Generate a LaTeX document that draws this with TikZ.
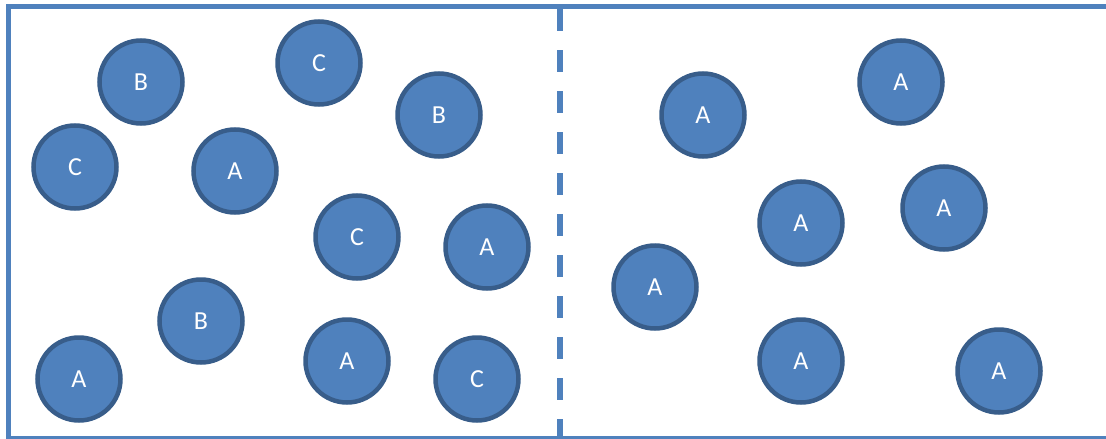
\documentclass[tikz,border=0pt]{standalone}
\usepackage{fontspec}
\setmainfont{Carlito}
\definecolor{ballfill}{HTML}{4F81BD}
\definecolor{balledge}{HTML}{385D8A}

\begin{document}
\begin{tikzpicture}[x=1pt,y=-1pt,
	ball/.style={circle,draw=balledge,fill=ballfill,line width=4.5pt,minimum size=83pt,inner sep=0pt,text=white,font=\fontsize{26}{26}\selectfont},
	wall/.style={draw=ballfill,line width=5pt}]
\useasboundingbox (0,0) rectangle (1106,439);
% container
\draw[wall] (1115,6.5) -- (8.5,6.5) -- (8.5,438) -- (1115,438);
\coordinate (top) at (560,9);
\coordinate (bottom) at (560,437);
\draw[wall,line width=6pt,dash pattern=on 22pt off 19pt] (top) -- (bottom);
% left half
\node [ball] (b1) at (141,82) {B};
\node [ball] (c1) at (319,63) {C};
\node [ball] (b2) at (439,115) {B};
\node [ball] (c2) at (75,167) {C};
\node [ball] (a1) at (235,171) {A};
\node [ball] (c3) at (357,237) {C};
\node [ball] (a2) at (487,247) {A};
\node [ball] (b3) at (201,321) {B};
\node [ball] (a3) at (79,379) {A};
\node [ball] (a4) at (347,361) {A};
\node [ball] (c4) at (477,379) {C};
% right half
\node [ball] (r1) at (703,115) {A};
\node [ball] (r2) at (901,82) {A};
\node [ball] (r3) at (801,223) {A};
\node [ball] (r4) at (944,208) {A};
\node [ball] (r5) at (655,287) {A};
\node [ball] (r6) at (801,361) {A};
\node [ball] (r7) at (999,371) {A};
\end{tikzpicture}
\end{document}
